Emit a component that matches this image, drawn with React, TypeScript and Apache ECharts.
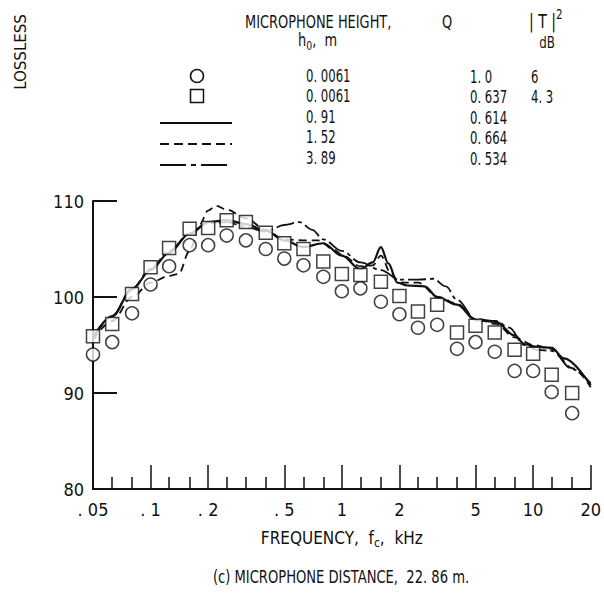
import React, { useEffect, useRef } from "react";
import * as echarts from "echarts";

// 1/3-octave band centre frequencies, kHz
const bandFreqs = [0.05, 0.063, 0.08, 0.1, 0.125, 0.16, 0.2, 0.25, 0.315, 0.4, 0.5, 0.63, 0.8, 1.0, 1.25, 1.6, 2.0, 2.5, 3.15, 4.0, 5.0, 6.3, 8.0, 10, 12.5, 16];
// h0 = 0.0061 m, Q = 1.0 (circles)
const circleDb = [94.0, 95.3, 98.3, 101.3, 103.2, 105.4, 105.4, 106.4, 105.9, 105.0, 104.0, 103.3, 102.1, 100.6, 100.9, 99.5, 98.2, 96.8, 97.1, 94.6, 95.3, 94.3, 92.3, 92.3, 90.1, 87.9];
// h0 = 0.0061 m, Q = 0.637 (squares)
const squareDb = [95.9, 97.2, 100.3, 103.1, 105.1, 107.1, 107.2, 108.0, 107.8, 106.7, 105.6, 105.0, 103.7, 102.4, 102.3, 101.6, 100.1, 98.5, 99.2, 96.3, 97.0, 96.3, 94.5, 94.1, 91.9, 90.0];

// h0 = 0.91 m (solid)
const solidFreq = [0.05, 0.063, 0.08, 0.1, 0.125, 0.16, 0.2, 0.25, 0.315, 0.4, 0.5, 0.63, 0.8, 1.0, 1.25, 1.45, 1.6, 1.75, 1.95, 2.2, 2.7, 3.2, 4.0, 5.0, 6.4, 8.0, 9.0, 10.5, 12.5, 14.5, 20];
const solidDb = [95.8, 98.0, 100.8, 102.8, 104.6, 106.6, 107.8, 108.0, 107.6, 106.9, 105.9, 105.2, 105.6, 104.3, 102.9, 103.6, 105.2, 103.5, 101.5, 101.2, 101.1, 99.9, 99.2, 97.6, 97.4, 96.0, 95.1, 94.8, 94.7, 93.6, 90.8];
// h0 = 1.52 m (dashed)
const dashFreq = [0.05, 0.063, 0.08, 0.1, 0.125, 0.14, 0.16, 0.18, 0.2, 0.22, 0.25, 0.315, 0.4, 0.5, 0.63, 0.75, 0.9, 1.0, 1.25, 1.45, 1.6, 1.8, 2.0, 2.5, 3.2, 4.0, 5.0, 6.4, 8.0, 10, 12.5, 16, 20];
const dashDb = [95.5, 97.5, 100.0, 101.5, 102.2, 102.4, 104.8, 107.5, 109.0, 109.5, 109.1, 108.2, 107.0, 106.0, 105.9, 105.9, 105.0, 104.4, 103.2, 103.3, 104.3, 102.5, 101.5, 101.5, 100.0, 99.3, 97.7, 97.2, 95.8, 95.0, 94.6, 92.6, 90.6];
// h0 = 3.89 m (dash-dot)
const dotFreq = [0.05, 0.063, 0.08, 0.1, 0.125, 0.16, 0.2, 0.25, 0.315, 0.4, 0.5, 0.6, 0.7, 0.8, 1.0, 1.25, 1.6, 2.0, 2.5, 3.0, 3.5, 4.0, 5.0, 6.4, 7.5, 9.0, 10.5, 12.5, 16, 20];
const dotDb = [95.6, 98.0, 100.9, 102.9, 104.8, 106.6, 107.7, 107.8, 107.3, 106.8, 107.5, 107.8, 107.0, 106.0, 104.8, 103.6, 102.8, 101.8, 101.8, 101.9, 101.1, 99.7, 97.7, 97.5, 96.8, 95.0, 94.5, 94.4, 92.5, 91.0];

// axis ticks, kHz
const majorTicks = [0.1, 0.2, 0.5, 1, 2, 5, 10, 20];
const minorTicks = [0.063, 0.08, 0.125, 0.16, 0.25, 0.315, 0.4, 0.63, 0.8, 1.25, 1.6, 2.5, 3.15, 4, 6.3, 8, 12.5, 16];
const xLabelValues = [0.05, 0.1, 0.2, 0.5, 1, 2, 5, 10, 20];
const xLabelTexts = [". 05", ". 1", ". 2", ". 5", "1", "2", "5", "10", "20"];
const yTicks = [80, 90, 100, 110];

// legend table
const heights = ["0. 0061", "0. 0061", "0. 91", "1. 52", "3. 89"];
const qValues = ["1. 0", "0. 637", "0. 614", "0. 664", "0. 534"];
const tValues = ["6", "4. 3"];

const FONT = '"DejaVu Sans Condensed", "DejaVu Sans", sans-serif';
const lg = (f: number) => Math.log10(f);
const XMIN = lg(0.05);
const XMAX = lg(20);

export default function App() {
  const ref = useRef<HTMLDivElement>(null);
  useEffect(() => {
    document.body.style.margin = "0";
    const chart = echarts.init(ref.current!, null, { renderer: "svg" });
    const zip = (fs: number[], ds: number[]) => fs.map((f, i) => [lg(f), ds[i]]);
    const rowY = [76, 96, 117, 137, 158];
    const lineY = [0, 0, 123, 144, 165];
    const SX = 0.72;
    const txt = (x: number, y: number, text: string, extra: any = {}, sx = SX) => ({
      type: "text",
      x,
      y,
      scaleX: sx,
      style: { text, fill: "#111", font: `18px ${FONT}`, textVerticalAlign: "middle", ...extra },
    });
    const graphic: any[] = [
      {
        type: "text",
        x: 21,
        y: 52,
        rotation: Math.PI / 2,
        style: { text: "LOSSLESS", fill: "#111", font: `15px "DejaVu Sans", sans-serif`, textAlign: "center", textVerticalAlign: "middle" },
      },
      txt(245, 22, "MICROPHONE HEIGHT,", { font: `18px ${FONT}` }, 0.8),
      {
        type: "text",
        x: 298,
        y: 40,
        scaleX: 0.8,
        style: {
          text: "h{sub|0},  m",
          fill: "#111",
          font: `18px ${FONT}`,
          textVerticalAlign: "middle",
          rich: { sub: { font: `13px ${FONT}`, padding: [11, 0, 0, 0] } },
        },
      },
      txt(447, 22, "Q", { font: `18px ${FONT}`, textAlign: "center" }, 0.8),
      {
        type: "text",
        x: 529,
        y: 21,
        scaleX: 0.82,
        style: {
          text: "| T |{sup|2}",
          fill: "#111",
          font: `19px ${FONT}`,
          textVerticalAlign: "middle",
          rich: { sup: { font: `14px ${FONT}`, padding: [0, 0, 13, 0] } },
        },
      },
      txt(547, 42, "dB", { font: `16px ${FONT}`, textAlign: "center" }, 0.82),
      { type: "circle", shape: { cx: 197, cy: rowY[0], r: 6.5 }, style: { fill: "#fff", stroke: "#111", lineWidth: 1.5 } },
      { type: "rect", shape: { x: 190.5, y: rowY[1] - 6.5, width: 13, height: 13 }, style: { fill: "#fff", stroke: "#111", lineWidth: 1.5 } },
      { type: "line", shape: { x1: 160, y1: lineY[2], x2: 232, y2: lineY[2] }, style: { stroke: "#111", lineWidth: 2 } },
      { type: "line", shape: { x1: 160, y1: lineY[3], x2: 232, y2: lineY[3] }, style: { stroke: "#111", lineWidth: 2, lineDash: [9, 5] } },
      { type: "line", shape: { x1: 160, y1: lineY[4], x2: 232, y2: lineY[4] }, style: { stroke: "#111", lineWidth: 2, lineDash: [26, 5, 5, 5] } },
      txt(341, 577, "(c) MICROPHONE DISTANCE,  22. 86 m.", { font: `18px ${FONT}`, textAlign: "center" }, 0.81),
    ];
    heights.forEach((h, i) => graphic.push(txt(306, rowY[i], h)));
    qValues.forEach((q, i) => graphic.push(txt(470, rowY[i] + 1, q)));
    tValues.forEach((t, i) => graphic.push(txt(531, rowY[i] + 1, t)));

    const labelMap: Record<string, string> = {};
    xLabelValues.forEach((v, i) => (labelMap[lg(v).toFixed(5)] = xLabelTexts[i]));

    chart.setOption({
      animation: false,
      backgroundColor: "#fff",
      grid: { left: 93, right: 9, top: 201, bottom: 105 },
      xAxis: [
        {
          type: "value",
          min: XMIN,
          max: XMAX,
          position: "bottom",
          splitLine: { show: false },
          axisLine: { show: true, onZero: false, lineStyle: { color: "#111", width: 2 } },
          axisTick: { show: true, inside: true, length: 12, lineStyle: { color: "#111", width: 1.5 }, customValues: minorTicks.map(lg) },
          axisLabel: {
            show: true,
            margin: 11,
            customValues: xLabelValues.map(lg),
            formatter: (v: number) => labelMap[v.toFixed(5)] ?? "",
            color: "#111",
            fontSize: 18,
            fontFamily: FONT,
          },
          name: "FREQUENCY,  f{sub|c},  kHz",
          nameLocation: "middle",
          nameGap: 38,
          nameTextStyle: {
            color: "#111",
            fontSize: 17,
            fontFamily: FONT,
            rich: { sub: { fontSize: 12, fontFamily: FONT, padding: [10, 0, 0, 0] } },
          },
        },
        {
          type: "value",
          min: XMIN,
          max: XMAX,
          position: "bottom",
          splitLine: { show: false },
          axisLine: { show: false, onZero: false },
          axisLabel: { show: false },
          axisTick: { show: true, inside: true, length: 24, lineStyle: { color: "#111", width: 1.5 }, customValues: majorTicks.map(lg) },
        },
      ],
      yAxis: {
        type: "value",
        min: 80,
        max: 110,
        interval: 10,
        splitLine: { show: false },
        axisLine: { show: true, onZero: false, lineStyle: { color: "#111", width: 2 } },
        axisTick: { show: true, inside: true, length: 24, lineStyle: { color: "#111", width: 2 }, customValues: yTicks },
        axisLabel: { margin: 9, color: "#111", fontSize: 18, fontFamily: FONT },
      },
      graphic,
      series: [
        {
          type: "line",
          data: zip(solidFreq, solidDb),
          smooth: 0.35,
          smoothMonotone: "x",
          symbol: "none",
          lineStyle: { color: "#111", width: 2.2 },
          z: 2,
        },
        {
          type: "line",
          data: zip(dashFreq, dashDb),
          smooth: 0.35,
          smoothMonotone: "x",
          symbol: "none",
          lineStyle: { color: "#111", width: 1.8, type: [8, 5] },
          z: 2,
        },
        {
          type: "line",
          data: zip(dotFreq, dotDb),
          smooth: 0.35,
          smoothMonotone: "x",
          symbol: "none",
          lineStyle: { color: "#111", width: 1.8, type: [18, 4, 4, 4] },
          z: 2,
        },
        {
          type: "scatter",
          data: zip(bandFreqs, circleDb),
          symbol: "circle",
          symbolSize: 13,
          itemStyle: { color: "#fff", borderColor: "#111", borderWidth: 1.5 },
          z: 4,
        },
        {
          type: "scatter",
          data: zip(bandFreqs, squareDb),
          symbol: "rect",
          symbolSize: 13,
          itemStyle: { color: "#fff", borderColor: "#111", borderWidth: 1.5 },
          z: 5,
        },
      ],
    });
    return () => chart.dispose();
  }, []);
  return <div ref={ref} style={{ width: 604, height: 594 }} />;
}
